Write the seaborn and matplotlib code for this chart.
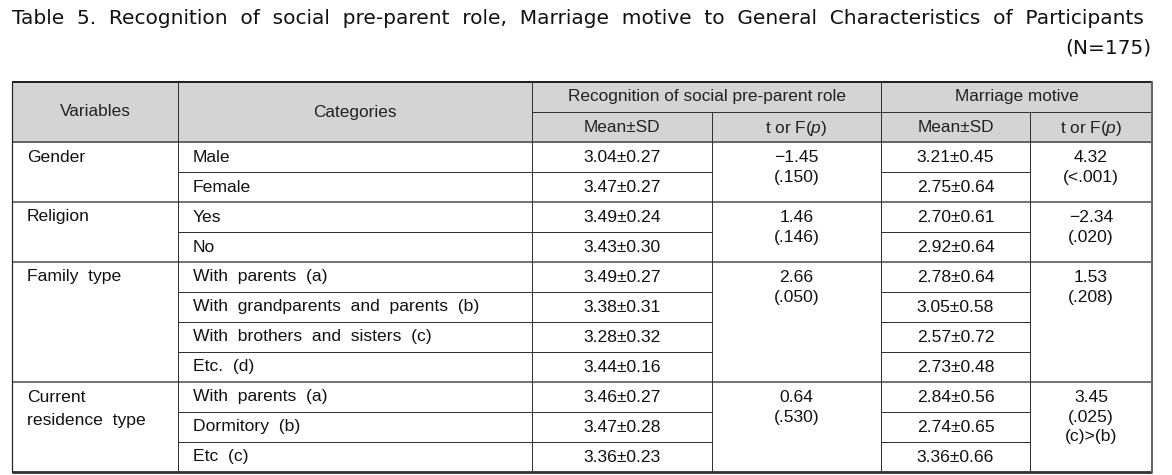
import matplotlib
matplotlib.use("Agg")
import matplotlib.pyplot as plt
import seaborn as sns

# table content
title = "Table 5. Recognition of social pre-parent role, Marriage motive to General Characteristics of Participants"
n_note = "(N=175)"
variables = ["Gender", "Religion", "Family type", "Current\nresidence type"]
group_sizes = [2, 2, 4, 3]
categories = ["Male", "Female", "Yes", "No",
              "With parents (a)", "With grandparents and parents (b)",
              "With brothers and sisters (c)", "Etc. (d)",
              "With parents (a)", "Dormitory (b)", "Etc (c)"]
rec_mean = [3.04, 3.47, 3.49, 3.43, 3.49, 3.38, 3.28, 3.44, 3.46, 3.47, 3.36]
rec_sd = [0.27, 0.27, 0.24, 0.30, 0.27, 0.31, 0.32, 0.16, 0.27, 0.28, 0.23]
rec_stat = ["\u22121.45", "1.46", "2.66", "0.64"]
rec_p = ["(.150)", "(.146)", "(.050)", "(.530)"]
mar_mean = [3.21, 2.75, 2.70, 2.92, 2.78, 3.05, 2.57, 2.73, 2.84, 2.74, 3.36]
mar_sd = [0.45, 0.64, 0.61, 0.64, 0.64, 0.58, 0.72, 0.48, 0.56, 0.65, 0.66]
mar_stat = ["4.32", "\u22122.34", "1.53", "3.45"]
mar_p = ["(<.001)", "(.020)", "(.208)", "(.025)\n(c)>(b)"]

sns.set_theme(style="white")
plt.rcParams["font.family"] = ["Liberation Sans", "DejaVu Sans"]
plt.rcParams["mathtext.fontset"] = "custom"
plt.rcParams["mathtext.rm"] = "Liberation Sans"
plt.rcParams["mathtext.it"] = "Liberation Sans:italic"


def wide(s):
    # the scanned table uses wide word spacing
    return s.replace(" ", "  ")


W, H = 1172, 475
fig = plt.figure(figsize=(W / 100, H / 100), dpi=100)
ax = fig.add_axes([0, 0, 1, 1])
ax.set_xlim(0, W)
ax.set_ylim(H, 0)
ax.axis("off")

px = 0.72  # one pixel in points
cols = [12, 178, 532, 712, 881, 1030, 1152]
top, mid, hbot = 82, 112, 142
rh = 30
n_rows = len(categories)
bottom = hbot + rh * n_rows

hdr_font = dict(family=["Liberation Sans", "DejaVu Sans"], fontsize=12.4, color="#222")
body_font = dict(family=["Liberation Sans", "DejaVu Sans"], fontsize=12.6, color="#111")

# header shading
ax.fill_between([cols[0], cols[-1]], top, hbot, color="#d4d4d4", lw=0, zorder=0)

# title, fitted to the table width
t = ax.text(cols[0], 18, wide(title), ha="left", va="center", fontsize=14,
            family=["DejaVu Sans"], color="#111")
fig.canvas.draw()
w = t.get_window_extent().width
t.set_fontsize(14 * (1134 / w))
ax.text(1151, 48, n_note, ha="right", va="center", fontsize=t.get_fontsize(),
        family=["DejaVu Sans"], color="#111")

# header texts
ax.text((cols[0] + cols[1]) / 2, (top + hbot) / 2, "Variables", ha="center", va="center", **hdr_font)
ax.text((cols[1] + cols[2]) / 2, (top + hbot) / 2, "Categories", ha="center", va="center", **hdr_font)
ax.text((cols[2] + cols[4]) / 2, (top + mid) / 2, "Recognition of social pre-parent role",
        ha="center", va="center", **hdr_font)
ax.text((cols[4] + cols[6]) / 2, (top + mid) / 2, "Marriage motive", ha="center", va="center", **hdr_font)
for a, b in [(2, 3), (4, 5)]:
    ax.text((cols[a] + cols[b]) / 2, (mid + hbot) / 2 + 1, "Mean\u00b1SD", ha="center", va="center", **hdr_font)
for a, b in [(3, 4), (5, 6)]:
    ax.text((cols[a] + cols[b]) / 2, (mid + hbot) / 2 + 1, "t or F($p$)", ha="center", va="center", **hdr_font)

# body rows
for i, cat in enumerate(categories):
    yc = hbot + rh * i + rh / 2
    ax.text(cols[1] + 15, yc, wide(cat), ha="left", va="center", **body_font)
    ax.text((cols[2] + cols[3]) / 2, yc, f"{rec_mean[i]:.2f}\u00b1{rec_sd[i]:.2f}",
            ha="center", va="center", **body_font)
    ax.text((cols[4] + cols[5]) / 2, yc, f"{mar_mean[i]:.2f}\u00b1{mar_sd[i]:.2f}",
            ha="center", va="center", **body_font)

# merged cells per group
start = 0
for g, size in enumerate(group_sizes):
    y0 = hbot + rh * start
    yc = y0 + rh / 2
    for k, line in enumerate(variables[g].split("\n")):
        ax.text(cols[0] + 15, yc + k * 23, wide(line), ha="left", va="center", **body_font)
    rec_lines = [rec_stat[g]] + rec_p[g].split("\n")
    mar_lines = [mar_stat[g]] + mar_p[g].split("\n")
    for k, line in enumerate(rec_lines):
        ax.text((cols[3] + cols[4]) / 2, yc + 1 + k * 19.5, line, ha="center", va="center", **body_font)
    for k, line in enumerate(mar_lines):
        ax.text((cols[5] + cols[6]) / 2, yc + 1 + k * 19.5, line, ha="center", va="center", **body_font)
    # thin lines inside the group
    for r in range(1, size):
        yy = y0 + rh * r
        ax.plot([cols[1], cols[3]], [yy, yy], color="#333", lw=1 * px, solid_capstyle="butt")
        ax.plot([cols[4], cols[5]], [yy, yy], color="#333", lw=1 * px, solid_capstyle="butt")
    start += size
    if start < n_rows:
        yy = hbot + rh * start
        ax.plot([cols[0], cols[-1]], [yy, yy], color="#555", lw=1.6 * px, solid_capstyle="butt")

# horizontal rules
ax.plot([cols[0], cols[-1]], [top, top], color="#222", lw=2 * px, solid_capstyle="butt")
ax.plot([cols[2], cols[-1]], [mid, mid], color="#333", lw=1 * px, solid_capstyle="butt")
ax.plot([cols[0], cols[-1]], [hbot, hbot], color="#666", lw=2 * px, solid_capstyle="butt")
ax.plot([cols[0], cols[-1]], [bottom, bottom], color="#333", lw=2.8 * px, solid_capstyle="butt")

# vertical rules
ax.plot([cols[0], cols[0]], [top, bottom], color="#222", lw=1.2 * px)
for x in [cols[1], cols[2], cols[4]]:
    ax.plot([x, x], [top, bottom], color="#333", lw=1 * px)
for x in [cols[3], cols[5]]:
    ax.plot([x, x], [mid, bottom], color="#333", lw=1 * px)
ax.plot([cols[-1], cols[-1]], [top, bottom], color="#666", lw=2 * px)

fig.savefig("out.png", dpi=100)
